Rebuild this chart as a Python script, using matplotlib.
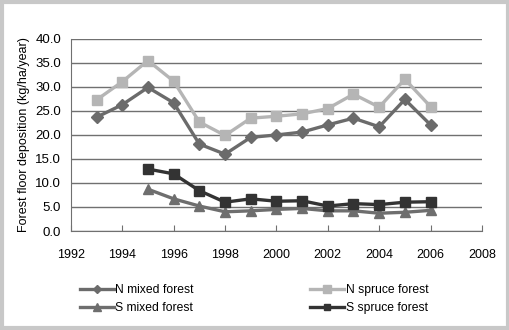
import matplotlib
matplotlib.use('Agg')
from matplotlib import pyplot as plt
from matplotlib.patches import Rectangle

plt.rcParams['font.family'] = ['Liberation Sans', 'DejaVu Sans']

years_n = [1993, 1994, 1995, 1996, 1997, 1998, 1999, 2000, 2001, 2002, 2003, 2004, 2005, 2006]
years_s = [1995, 1996, 1997, 1998, 1999, 2000, 2001, 2002, 2003, 2004, 2005, 2006]

n_mixed = [23.7, 26.3, 29.9, 26.7, 18.1, 16.0, 19.5, 20.0, 20.6, 22.1, 23.5, 21.7, 27.4, 22.1]
n_spruce = [27.3, 31.1, 35.5, 31.2, 22.7, 19.9, 23.5, 23.9, 24.4, 25.5, 28.5, 25.8, 31.6, 25.9]
s_mixed = [8.7, 6.7, 5.2, 4.0, 4.2, 4.5, 4.7, 4.2, 4.2, 3.7, 3.9, 4.3]
s_spruce = [12.9, 11.9, 8.4, 6.0, 6.7, 6.2, 6.3, 5.2, 5.7, 5.5, 6.0, 6.1]

x_ticks = [1992, 1994, 1996, 1998, 2000, 2002, 2004, 2006, 2008]
y_ticks = [0, 5, 10, 15, 20, 25, 30, 35, 40]

fig = plt.figure(figsize=(5.1, 3.3), dpi=100)
fig.patches.append(Rectangle((0.004, 0.006), 0.992, 0.988, transform=fig.transFigure,
                             fill=False, edgecolor='#c8c8c8', linewidth=3))
ax = fig.add_axes([0.139, 0.300, 0.806, 0.582])

lw = 2.4
ax.plot(years_n, n_mixed, color='#6b6b6b', lw=lw, marker='D', ms=6, label='N mixed forest')
ax.plot(years_s, s_mixed, color='#6e6e6e', lw=lw, marker='^', ms=7.5, label='S mixed forest')
ax.plot(years_n, n_spruce, color='#b5b5b5', lw=lw, marker='s', ms=7, label='N spruce forest')
ax.plot(years_s, s_spruce, color='#333333', lw=lw, marker='s', ms=6.5, label='S spruce forest')

ax.set_xlim(1992, 2008)
ax.set_ylim(0, 40)
ax.set_xticks(x_ticks)
ax.set_yticks(y_ticks)
ax.set_yticklabels([f'{v:.1f}' for v in y_ticks])
ax.yaxis.grid(True, color='#707070', lw=1)
ax.set_axisbelow(True)
for s in ['top', 'right']:
    ax.spines[s].set_visible(False)
ax.spines['left'].set_color('#707070')
ax.spines['bottom'].set_color('#707070')
ax.tick_params(axis='x', direction='in', length=4, color='#707070', labelsize=9, pad=13)
ax.tick_params(axis='y', length=0, labelsize=9.5, pad=7)
ax.set_ylabel('Forest floor deposition (kg/ha/year)', fontsize=9, labelpad=4)

fig.legend(loc='lower left', bbox_to_anchor=(0.135, 0.015), ncol=2, frameon=False,
           fontsize=8.7, columnspacing=9.7, handlelength=2.8, handletextpad=0.1,
           labelspacing=0.5, markerscale=0.75)

fig.savefig('out.png', dpi=100)
